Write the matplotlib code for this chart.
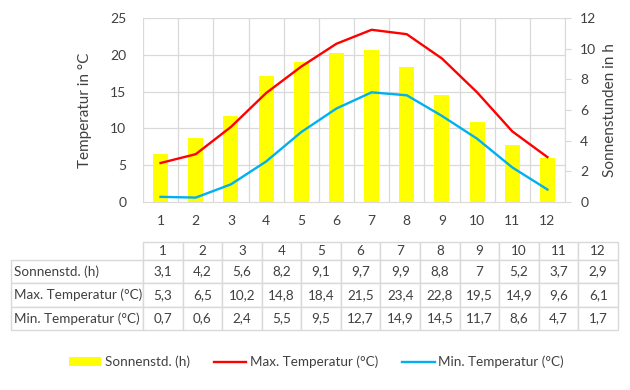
import matplotlib
matplotlib.use("Agg")
import matplotlib.pyplot as plt
from matplotlib.patches import Patch
from matplotlib.lines import Line2D

months = list(range(1, 13))
sonne = [3.1, 4.2, 5.6, 8.2, 9.1, 9.7, 9.9, 8.8, 7, 5.2, 3.7, 2.9]
t_max = [5.3, 6.5, 10.2, 14.8, 18.4, 21.5, 23.4, 22.8, 19.5, 14.9, 9.6, 6.1]
t_min = [0.7, 0.6, 2.4, 5.5, 9.5, 12.7, 14.9, 14.5, 11.7, 8.6, 4.7, 1.7]
row_labels = ["Sonnenstd. (h)", "Max. Temperatur (°C)", "Min. Temperatur (°C)"]

txt = "#404040"
grid = "#d9d9d9"
fs = 9.5
plt.rcParams["font.family"] = ["Lato", "DejaVu Sans"]
plt.rcParams["font.size"] = fs

fig = plt.figure(figsize=(6.3, 3.9), dpi=100)
W, H = 630, 390

def px(l, t, r, b):
    return [l / W, 1 - b / H, (r - l) / W, (b - t) / H]

# main chart, temperatures on the left axis
ax = fig.add_axes(px(143, 18, 565, 202))
ax2 = ax.twinx()
ax.set_zorder(ax2.get_zorder() + 1)
ax.patch.set_visible(False)

ax2.bar(months, sonne, width=0.43, color="#ffff00", zorder=2)
ax.plot(months, t_max, color="#ff0000", lw=1.7)
ax.plot(months, t_min, color="#00b0f0", lw=1.7)

ax.set_xlim(0.5, 12.5)
ax.set_ylim(0, 25)
ax.set_yticks(range(0, 26, 5))
ax2.set_ylim(0, 12)
ax2.set_yticks(range(0, 13, 2))
ax.set_xticks(months)

# category gridlines between the months
for x in [m + 0.5 for m in range(0, 13)]:
    ax2.axvline(x, color=grid, lw=0.9, zorder=0)
for y in range(5, 26, 5):
    ax2.axhline(y * 12 / 25, color=grid, lw=0.9, zorder=0)

for a in (ax, ax2):
    for s in a.spines.values():
        s.set_visible(False)
ax2.spines["bottom"].set_visible(True)
ax2.spines["bottom"].set_color(grid)
ax2.spines["right"].set_visible(True)
ax2.spines["right"].set_color(grid)

ax.tick_params(axis="both", length=0, colors=txt, labelsize=fs + 0.5)
ax.tick_params(axis="y", pad=12)
ax.tick_params(axis="x", pad=9)
ax2.tick_params(axis="y", length=4, color=grid, labelcolor=txt, labelsize=fs + 0.5, pad=7)

ax.set_ylabel("Temperatur in °C", color=txt, fontsize=11, labelpad=13)
ax2.set_ylabel("Sonnenstunden in h", color=txt, fontsize=11, labelpad=5)

# data table below
axt = fig.add_axes(px(11, 242, 618, 330))
axt.axis("off")
cells = [[""] + [str(m) for m in months]]
for lab, vals in zip(row_labels, [sonne, t_max, t_min]):
    cells.append([lab] + [str(v).replace(".", ",") for v in vals])
col_w = [132] + [39.6] * 12
tab = axt.table(cellText=cells, colWidths=col_w, cellLoc="center", bbox=[0, 0, 1, 1])
tab.auto_set_font_size(False)
tab.set_fontsize(fs + 0.2)
row_h = [18, 23.5, 23.5, 23.5]
for (r, c), cell in tab.get_celld().items():
    cell.set_height(row_h[r])
    cell.set_edgecolor(grid)
    cell.set_linewidth(1.0)
    cell.get_text().set_color(txt)
    if c == 0:
        cell.get_text().set_ha("left")
        cell.PAD = 0.02
    if r == 0 and c == 0:
        cell.set_edgecolor("none")

handles = [
    Patch(facecolor="#ffff00", edgecolor="none"),
    Line2D([], [], color="#ff0000", lw=1.7),
    Line2D([], [], color="#00b0f0", lw=1.7),
]
fig.legend(handles, row_labels, loc="center", bbox_to_anchor=(0.502, 0.072), ncol=3,
           frameon=False, handlelength=2.4, handleheight=0.6, handletextpad=0.25,
           columnspacing=1.8, labelcolor=txt, fontsize=fs + 0.2)

fig.savefig("out.png", dpi=100)
